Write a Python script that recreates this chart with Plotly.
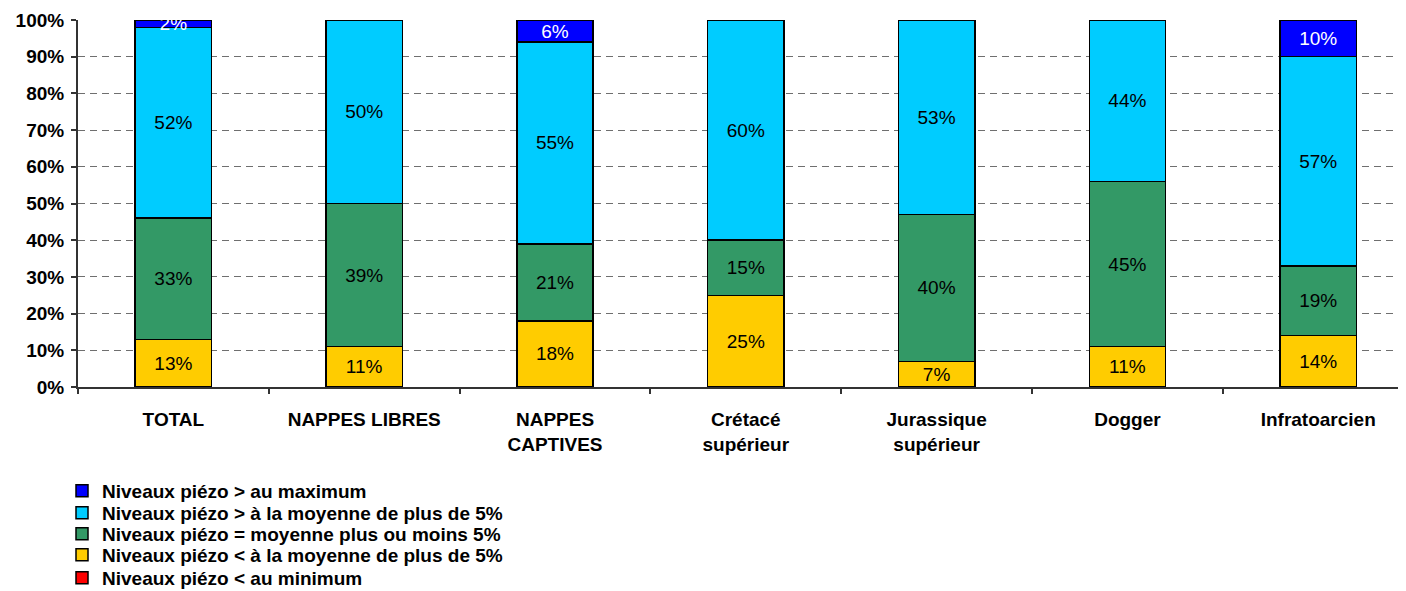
import plotly.graph_objects as go

categories = ["TOTAL", "NAPPES LIBRES", "NAPPES<br>CAPTIVES", "Crétacé<br>supérieur",
              "Jurassique<br>supérieur", "Dogger", "Infratoarcien"]

# series (percent)
below_min = [0, 0, 0, 0, 0, 0, 0]
below_avg = [13, 11, 18, 25, 7, 11, 14]
avg = [33, 39, 21, 15, 40, 45, 19]
above_avg = [52, 50, 55, 60, 53, 44, 57]
above_max = [2, 0, 6, 0, 0, 0, 10]

names = [
    "Niveaux piézo < au minimum",
    "Niveaux piézo < à la moyenne de plus de 5%",
    "Niveaux piézo = moyenne plus ou moins 5%",
    "Niveaux piézo > à la moyenne de plus de 5%",
    "Niveaux piézo > au maximum",
]
series = [below_min, below_avg, avg, above_avg, above_max]
colors = ["#FF0000", "#FFCC00", "#339966", "#00CCFF", "#0000FF"]
text_colors = ["black", "black", "black", "black", "white"]

W, H = 1398, 583
legend_rows_px = [570, 547, 526, 505, 483]  # per series (bottom to top)

fig = go.Figure()
for i, (nm, vals, col, tc) in enumerate(zip(names, series, colors, text_colors)):
    lg = "legend" if i == 0 else f"legend{i+1}"
    fig.add_trace(go.Bar(
        x=categories, y=vals, name=nm,
        marker=dict(color=col, line=dict(color="black", width=1.5)),
        text=[f"{v}%" if v else "" for v in vals],
        textposition="inside", insidetextanchor="middle", textangle=0,
        textfont=dict(color=tc, size=19, family="Liberation Sans, Arial, sans-serif"),
        legend=lg, hoverinfo="skip",
    ))

layout_legends = {}
for i in range(5):
    key = "legend" if i == 0 else f"legend{i+1}"
    layout_legends[key] = dict(
        xref="container", yref="container",
        x=54 / W, y=1 - legend_rows_px[i] / H,
        xanchor="left", yanchor="middle",
        font=dict(family="Liberation Sans, Arial, sans-serif", size=19, color="black", weight="bold"),
        bgcolor="rgba(0,0,0,0)", borderwidth=0,
    )

fig.update_layout(
    width=W, height=H,
    margin=dict(l=70, r=0, t=12, b=204, autoexpand=False),
    paper_bgcolor="white", plot_bgcolor="white",
    barmode="stack", bargap=0.6,
    uniformtext=dict(minsize=19, mode="show"),
    showlegend=True,
    font=dict(family="Liberation Sans, Arial, sans-serif", color="black"),
    xaxis=dict(
        range=[-0.5, 6.46], showline=True, linecolor="#333", linewidth=2,
        ticks="outside", tickson="boundaries", ticklen=5, tickcolor="#333", tickwidth=1.5,
        tickfont=dict(size=19, weight="bold", color="black"), ticklabelstandoff=14,
        tickangle=0, showgrid=False, fixedrange=True,
    ),
    yaxis=dict(
        range=[0, 100], dtick=10, ticksuffix="%", showline=True, linecolor="#333", linewidth=2,
        ticks="outside", ticklen=5, tickcolor="#333", tickwidth=1.5,
        tickfont=dict(size=19, weight="bold", color="black"), ticklabelstandoff=3,
        showgrid=True, gridcolor="#6f6f6f", gridwidth=1, griddash="7px,5px",
        zeroline=False, fixedrange=True,
    ),
    **layout_legends,
)

fig.write_html("out.html")
